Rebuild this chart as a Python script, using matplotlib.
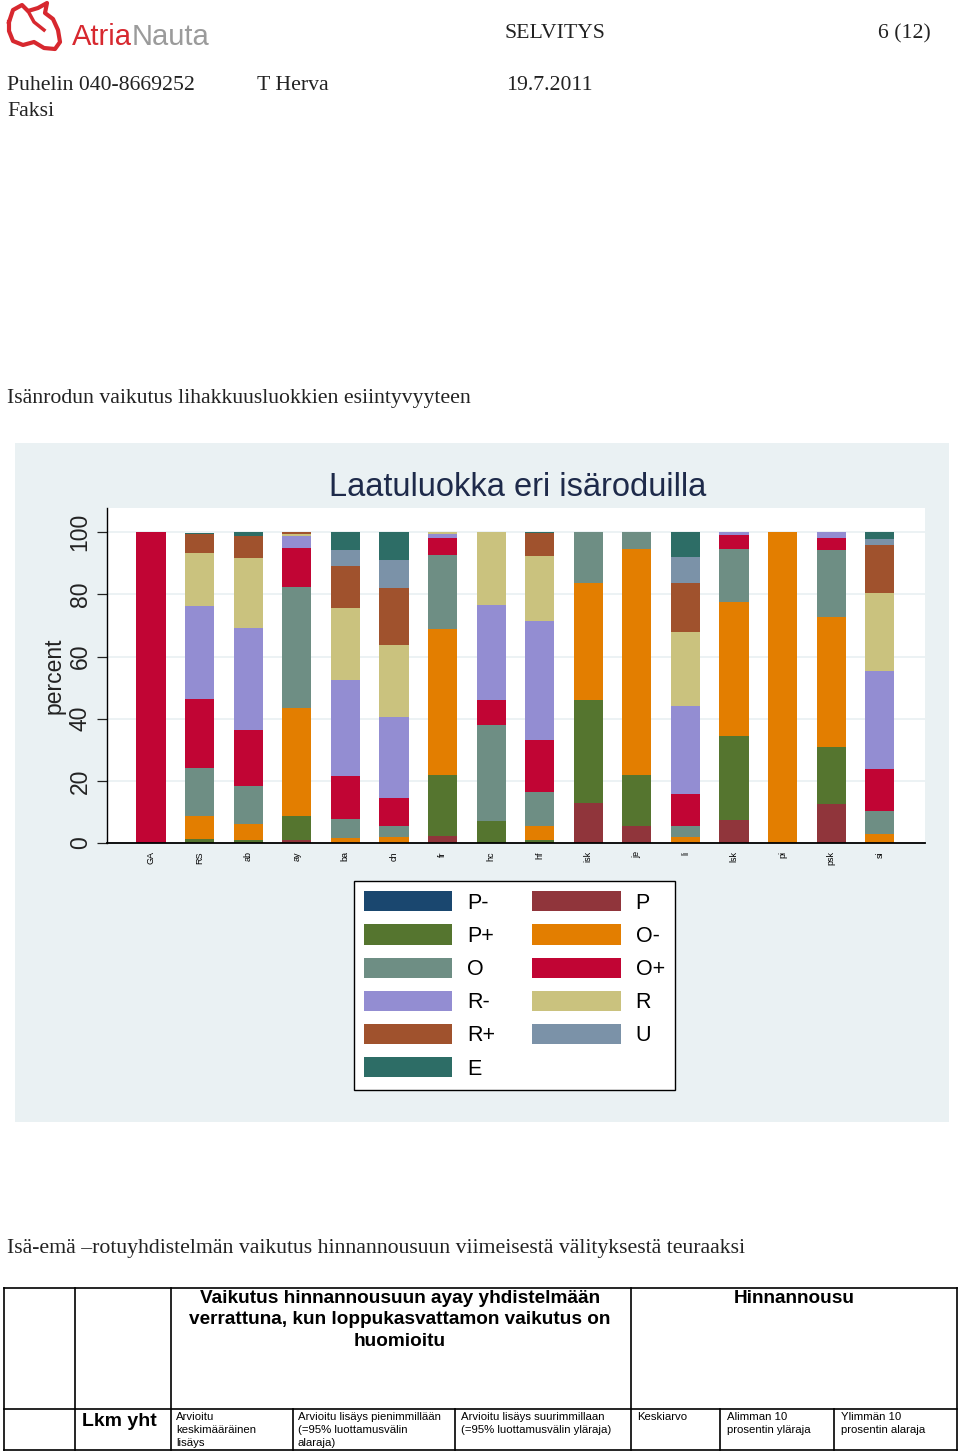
import numpy as np
import matplotlib.pyplot as plt
from matplotlib.patches import Rectangle, Patch

# ---------------- data ----------------
breeds = ['GA', 'RS', 'ab', 'ay', 'ba', 'ch', 'fr', 'hc', 'hf', 'isk', 'je', 'li', 'lsk', 'pi', 'psk', 'si']

# percent of each class per sire breed (stacked bottom -> top)
p_minus = [0, 0, 0, 0, 0, 0, 0, 0, 0, 0, 0, 0, 0, 0, 0, 0]
p_mid = [0, 0, 0, 1.1, 0, 0, 2.1, 0, 0, 12.9, 5.4, 0, 7.5, 0, 12.4, 0]
p_plus = [0, 1.3, 0.9, 7.7, 0, 0, 19.8, 7.2, 1.1, 33.2, 16.6, 0, 27.0, 0, 18.4, 0]
o_minus = [0, 7.5, 5.3, 34.5, 1.7, 1.8, 46.9, 0, 4.5, 37.6, 72.5, 1.8, 43.2, 100, 41.9, 3.0]
o_mid = [0, 15.4, 12.2, 39.0, 6.1, 3.8, 23.9, 30.8, 10.9, 16.3, 5.5, 3.8, 17.0, 0, 21.6, 7.3]
o_plus = [100, 22.1, 17.9, 12.6, 13.8, 8.9, 5.3, 7.9, 16.8, 0, 0, 10.3, 4.5, 0, 3.8, 13.4]
r_minus = [0, 30.0, 32.8, 4.0, 31.0, 25.9, 1.5, 30.7, 38.0, 0, 0, 28.3, 0.8, 0, 1.9, 31.6]
r_mid = [0, 16.9, 22.5, 0.5, 23.1, 23.3, 0.5, 23.4, 21.1, 0, 0, 23.8, 0, 0, 0, 25.3]
r_plus = [0, 6.1, 7.3, 0.6, 13.3, 18.4, 0, 0, 7.3, 0, 0, 15.8, 0, 0, 0, 15.3]
u_cls = [0, 0, 0, 0, 5.4, 8.9, 0, 0, 0, 0, 0, 8.2, 0, 0, 0, 2.0]
e_cls = [0, 0.6, 1.1, 0, 5.6, 9.0, 0, 0, 0.3, 0, 0, 8.0, 0, 0, 0, 2.1]

series = [p_minus, p_mid, p_plus, o_minus, o_mid, o_plus, r_minus, r_mid, r_plus, u_cls, e_cls]
labels = ['P-', 'P', 'P+', 'O-', 'O', 'O+', 'R-', 'R', 'R+', 'U', 'E']
colors = ['#1a476f', '#90353b', '#55752f', '#e37e00', '#6e8e84', '#c10534',
          '#938dd2', '#cac27e', '#a0522d', '#7b92a8', '#2d6d66']

yticks = [0, 20, 40, 60, 80, 100]

W, H = 960, 1453
serif = ['Liberation Serif', 'DejaVu Serif']
sans = ['Liberation Sans', 'DejaVu Sans']
fs_serif = 15.7

fig = plt.figure(figsize=(9.6, 14.53), dpi=100)

# page layer in pixel coordinates
page = fig.add_axes([0, 0, 1, 1])
page.set_xlim(0, W)
page.set_ylim(H, 0)
page.axis('off')

# --- header ---
icon = [(9, 22), (13, 10), (22, 5), (28, 11), (38, 8), (47, 3), (45, 13), (53, 19),
        (58, 30), (60, 42), (55, 49), (44, 48), (34, 42), (23, 45), (13, 41), (9, 31), (9, 22)]
page.plot([p[0] for p in icon], [p[1] for p in icon], color='#d7282f', lw=3, solid_joinstyle='round')
page.plot([28, 34, 44], [11, 22, 30], color='#d7282f', lw=2.5)
renderer = fig.canvas.get_renderer()
t1 = page.text(72, 37, 'Atria', color='#d7282f', fontsize=21, va='center',
               family=['Liberation Sans Narrow', 'Liberation Sans', 'DejaVu Sans'])
bb = t1.get_window_extent(renderer=renderer)
x_next = page.transData.inverted().transform((bb.x1, bb.y0))[0]
page.text(x_next, 37, 'Nauta', color='#9b9b9b', fontsize=21, va='center',
          family=['Liberation Sans Narrow', 'Liberation Sans', 'DejaVu Sans'])

page.text(505, 34, 'SELVITYS', fontsize=fs_serif, family=serif, va='center', color='#222222')
page.text(931, 34, '6 (12)', fontsize=fs_serif, family=serif, va='center', ha='right', color='#222222')
page.text(7, 86, 'Puhelin 040-8669252', fontsize=fs_serif, family=serif, va='center', color='#222222')
page.text(257, 86, 'T Herva', fontsize=fs_serif, family=serif, va='center', color='#222222')
page.text(506, 86, '19.7.2011', fontsize=fs_serif, family=serif, va='center', color='#222222')
page.text(7, 111, 'Faksi', fontsize=fs_serif, family=serif, va='center', color='#222222')

page.text(7, 399, 'Isänrodun vaikutus lihakkuusluokkien esiintyvyyteen', fontsize=fs_serif,
          family=serif, va='center', color='#222222')

# chart background panel
page.add_patch(Rectangle((15, 443), 934, 679, facecolor='#eaf1f3', edgecolor='none', zorder=0))
page.text(518, 487, 'Laatuluokka eri isäroduilla', fontsize=23.5, family=sans,
          ha='center', va='center', color='#1e2a4a')
page.text(54, 676, 'percent', fontsize=16.5, family=sans, rotation=90,
          ha='center', va='center', color='#222222')

# --- stacked bar chart ---
ax = fig.add_axes([107 / W, 1 - 843 / H, (925 - 107) / W, (843 - 508) / H])
x = np.arange(len(breeds))
bottom = np.zeros(len(breeds))
for vals, lab, col in zip(series, labels, colors):
    vals = np.array(vals, dtype=float)
    ax.bar(x, vals, 0.6, bottom=bottom, color=col, linewidth=0, label=lab, zorder=2)
    bottom += vals

ax.set_xlim(-0.906, 15.93)
ax.set_ylim(0, 107.8)
ax.set_facecolor('white')
ax.set_yticks(yticks)
ax.set_yticklabels([str(v) for v in yticks], rotation=90, va='center', fontsize=16.5, family=sans)
ax.set_xticks(x)
ax.set_xticklabels(breeds, rotation=90, fontsize=6.5, family=sans)
ax.tick_params(axis='x', length=0, pad=6)
ax.tick_params(axis='y', length=7, width=0.9, pad=4, colors='#222222')
ax.grid(axis='y', color='#eaf1f3', lw=1.3, zorder=1)
for s in ['top', 'right']:
    ax.spines[s].set_visible(False)
ax.spines['left'].set_linewidth(1.0)
ax.spines['bottom'].set_linewidth(1.3)

# legend: column 1 = P-, P+, O, R-, R+, E ; column 2 = P, O-, O+, R, U
order = [0, 2, 4, 6, 8, 10, 1, 3, 5, 7, 9]
handles = [Patch(facecolor=colors[i], edgecolor='none') for i in order]
leg = fig.legend(handles, [labels[i] for i in order], ncol=2, loc='upper left',
                 bbox_to_anchor=(354 / W, 1 - 881 / H), borderaxespad=0,
                 prop={'family': sans, 'size': 15.5},
                 handlelength=4.1, handleheight=1.07, handletextpad=0.7,
                 labelspacing=0.5, columnspacing=1.71, borderpad=0.47,
                 fancybox=False, framealpha=1, edgecolor='black')
leg.get_frame().set_linewidth(1.0)

# --- second section ---
page.text(7, 1249, 'Isä-emä –rotuyhdistelmän vaikutus hinnannousuun viimeisestä välityksestä teuraaksi',
          fontsize=fs_serif, family=serif, va='center', color='#222222')

top, mid, bot = 1288, 1409, 1450
lw = 1.2
page.plot([4, 957], [top, top], color='k', lw=lw)
page.plot([4, 957], [mid, mid], color='k', lw=lw)
page.plot([4, 957], [bot, bot], color='k', lw=lw)
for xv in [4, 75, 171, 631, 957]:
    page.plot([xv, xv], [top, bot], color='k', lw=lw)
for xv in [293, 455, 720, 834]:
    page.plot([xv, xv], [mid, bot], color='k', lw=lw)

page.text(400, 1290, 'Vaikutus hinnannousuun ayay yhdistelmään\nverrattuna, kun loppukasvattamon vaikutus on\nhuomioitu',
          fontsize=13.7, family=sans, weight='bold', ha='center', va='top', linespacing=1.33)
page.text(794, 1290, 'Hinnannousu', fontsize=13.7, family=sans, weight='bold', ha='center', va='top')
page.text(82, 1421, 'Lkm yht', fontsize=14, family=sans, weight='bold', va='center')

small = [(176, 'Arvioitu\nkeskimääräinen\nlisäys'),
         (298, 'Arvioitu lisäys pienimmillään\n(=95% luottamusvälin\nalaraja)'),
         (461, 'Arvioitu lisäys suurimmillaan\n(=95% luottamusvälin yläraja)'),
         (637, 'Keskiarvo'),
         (727, 'Alimman 10\nprosentin yläraja'),
         (841, 'Ylimmän 10\nprosentin alaraja')]
for xv, txt in small:
    page.text(xv, 1412, txt, fontsize=8.2, family=sans, va='top', linespacing=1.35)

fig.savefig('out.png', dpi=100)
